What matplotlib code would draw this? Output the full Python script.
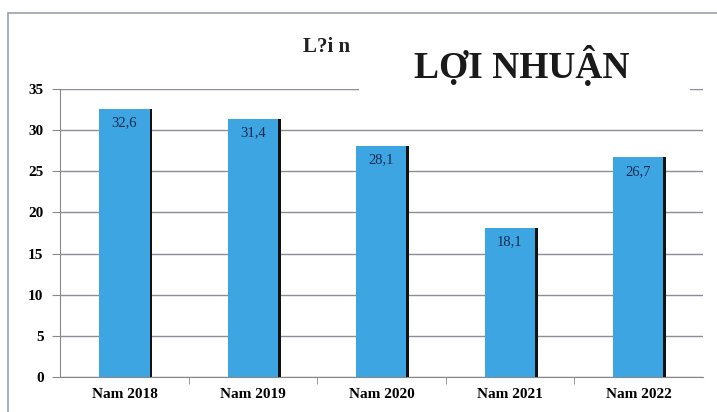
import numpy as np
import matplotlib.pyplot as plt
from matplotlib.patches import Rectangle

years = ["Nam 2018", "Nam 2019", "Nam 2020", "Nam 2021", "Nam 2022"]
profit = [32.6, 31.4, 28.1, 18.1, 26.7]
yticks = [0, 5, 10, 15, 20, 25, 30, 35]

plt.rcParams['font.family'] = ['Liberation Serif', 'DejaVu Serif']

fig = plt.figure(figsize=(7.17, 4.12), dpi=100)
ax = fig.add_axes([0.084, 0.085, 0.896, 0.699])

x = np.arange(len(years))
# dark shadow on the right side of each bar
ax.bar(x + 0.02, profit, 0.39, color="#111111", zorder=2)
bars = ax.bar(x, profit, 0.39, color="#3da5e2", zorder=3)

for xi, v in zip(x, profit):
    ax.text(xi, v - 0.9, f"{v:.1f}".replace(".", ","), ha="center", va="top",
            fontsize=10.5, color="#1a2a50", zorder=4)

ax.set_xlim(-0.5, len(years) - 0.5)
ax.set_ylim(0, 35)
ax.set_yticks(yticks)
ax.set_yticklabels([str(t) for t in yticks], fontsize=11, fontweight="bold")
ax.set_xticks(x)
ax.set_xticklabels(years, fontsize=11, fontweight="bold")
ax.tick_params(axis="x", length=0, pad=8)
ax.set_xticks(np.arange(0.5, len(years) - 0.5, 1), minor=True)
ax.tick_params(axis="x", which="minor", length=5, color="#888888")
ax.tick_params(axis="y", length=6, color="#888888", pad=6)
ax.yaxis.grid(True, color="#8c8c9c", linewidth=1.0, zorder=0)
for s in ["top", "right"]:
    ax.spines[s].set_visible(False)
ax.spines["left"].set_color("#888888")
ax.spines["bottom"].set_color("#888888")

# outer frame
fig.patches.append(Rectangle((0.011, -0.01), 1.0, 0.978, transform=fig.transFigure,
                             fill=False, edgecolor="#9aa0b0", linewidth=1.2))

fig.text(0.455, 0.885, "L?i n", ha="center", va="center", fontsize=15,
         fontweight="bold", color="#222222")
# white patch covering part of the title and top gridline
fig.patches.append(Rectangle((0.50, 0.77), 0.463, 0.16, transform=fig.transFigure,
                             facecolor="white", edgecolor="none", zorder=5))
fig.text(0.727, 0.842, "LỢI NHUẬN", ha="center", va="center", fontsize=27,
         fontweight="bold", color="#1a1a1a", zorder=6)

fig.savefig("out.png", dpi=100)
